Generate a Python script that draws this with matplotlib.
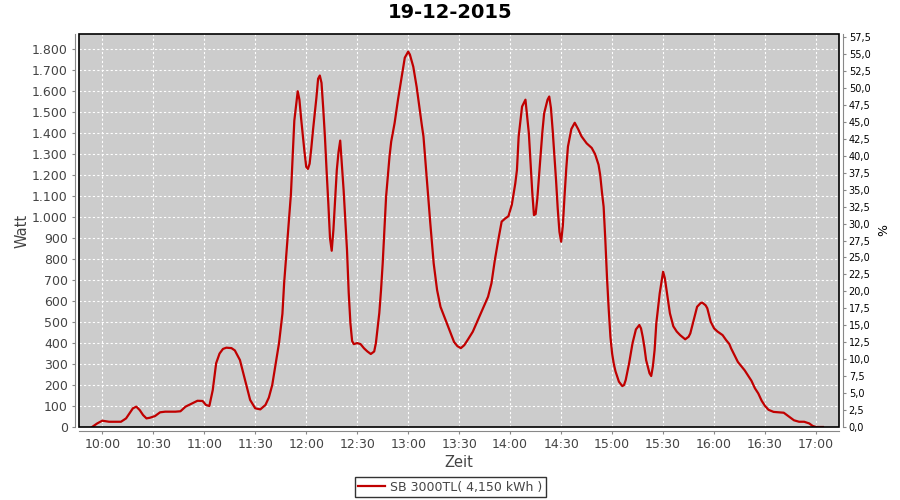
import matplotlib
matplotlib.use('Agg')
import matplotlib.pyplot as plt
from matplotlib.ticker import FuncFormatter, FixedLocator
from matplotlib.patches import Rectangle
import numpy as np

title = '19-12-2015'
series_name = 'SB 3000TL( 4,150 kWh )'

times = [
    '09:54', '09:57', '10:00', '10:04', '10:11', '10:14', '10:16', '10:18', '10:20', '10:22',
    '10:24', '10:26', '10:28', '10:31', '10:34', '10:37', '10:43', '10:46', '10:49', '10:53',
    '10:56', '10:59', '11:01', '11:03', '11:05', '11:07', '11:09', '11:11', '11:13', '11:16',
    '11:18', '11:21', '11:24', '11:27', '11:30', '11:33', '11:36', '11:38', '11:40', '11:42',
    '11:44', '11:46', '11:47', '11:49', '11:51', '11:52', '11:53', '11:55', '11:56', '11:57',
    '11:58', '11:59', '12:00', '12:01', '12:02', '12:03', '12:04', '12:06', '12:07', '12:08',
    '12:09', '12:10', '12:11', '12:12', '12:13', '12:14', '12:15', '12:16', '12:17', '12:18',
    '12:19', '12:20', '12:21', '12:22', '12:23', '12:24', '12:25', '12:26', '12:27', '12:28',
    '12:30', '12:32', '12:34', '12:36', '12:38', '12:40', '12:41', '12:42', '12:43', '12:44',
    '12:45', '12:46', '12:47', '12:49', '12:50', '12:52', '12:54', '12:56', '12:58', '13:00',
    '13:01', '13:03', '13:05', '13:06', '13:08', '13:09', '13:10', '13:11', '13:13', '13:15',
    '13:17', '13:19', '13:22', '13:25', '13:27', '13:29', '13:31', '13:33', '13:35', '13:38',
    '13:41', '13:44', '13:47', '13:49', '13:51', '13:53', '13:55', '13:57', '13:59', '14:01',
    '14:03', '14:04', '14:05', '14:07', '14:09', '14:10', '14:11', '14:12', '14:13', '14:14',
    '14:15', '14:16', '14:17', '14:18', '14:19', '14:20', '14:22', '14:23', '14:24', '14:25',
    '14:26', '14:27', '14:28', '14:29', '14:30', '14:31', '14:32', '14:33', '14:34', '14:36',
    '14:38', '14:40', '14:42', '14:45', '14:48', '14:50', '14:52', '14:53', '14:54', '14:55',
    '14:56', '14:57', '14:58', '14:59', '15:00', '15:01', '15:02', '15:04', '15:06', '15:07',
    '15:08', '15:10', '15:12', '15:14', '15:16', '15:17', '15:18', '15:19', '15:20', '15:22',
    '15:23', '15:24', '15:25', '15:26', '15:28', '15:30', '15:31', '15:32', '15:34', '15:36',
    '15:38', '15:40', '15:43', '15:45', '15:46', '15:48', '15:50', '15:52', '15:53', '15:55',
    '15:56', '15:58', '16:00', '16:02', '16:05', '16:07', '16:09', '16:10', '16:12', '16:14',
    '16:16', '16:18', '16:20', '16:22', '16:24', '16:26', '16:28', '16:30', '16:32', '16:35',
    '16:38', '16:41', '16:44', '16:47', '16:50', '16:53', '16:56', '16:58', '17:00', '17:04',
]

watt = [
    0, 17, 30, 25, 25, 41, 65, 89, 97, 81,
    57, 41, 44, 52, 70, 73, 73, 75, 97, 113,
    125, 124, 105, 100, 176, 304, 350, 372, 378, 376,
    365, 319, 224, 129, 89, 84, 105, 140, 200, 300,
    400, 540, 685, 900, 1110, 1290, 1460, 1600, 1560, 1470,
    1390, 1310, 1240, 1230, 1255, 1330, 1415, 1570, 1660, 1675,
    1640, 1520, 1384, 1220, 1067, 900, 840, 940, 1080, 1225,
    1310, 1365, 1250, 1130, 990, 843, 640, 495, 410, 395,
    400, 395, 375, 360, 348, 360, 400, 470, 543, 650,
    780, 940, 1098, 1288, 1360, 1448, 1560, 1660, 1760, 1789,
    1775, 1717, 1620, 1559, 1440, 1384, 1280, 1177, 972, 780,
    653, 573, 510, 447, 405, 385, 376, 390, 415, 454,
    510, 566, 621, 685, 796, 891, 979, 993, 1005, 1060,
    1160, 1225, 1384, 1527, 1560, 1480, 1400, 1257, 1120, 1010,
    1015, 1090, 1200, 1305, 1410, 1495, 1560, 1575, 1520, 1416,
    1300, 1177, 1040, 930, 883, 960, 1100, 1230, 1336, 1420,
    1450, 1420, 1385, 1352, 1330, 1300, 1250, 1200, 1120, 1050,
    891, 710, 560, 430, 350, 300, 265, 216, 195, 200,
    224, 304, 399, 465, 486, 470, 430, 380, 319, 256,
    243, 290, 367, 494, 637, 740, 710, 653, 542, 480,
    455, 438, 418, 430, 446, 510, 573, 590, 593, 580,
    566, 502, 470, 455, 438, 415, 395, 375, 343, 310,
    290, 270, 245, 220, 185, 160, 125, 100, 82, 72,
    70, 68, 50, 32, 25, 25, 17, 5, 0, 0,
]

x_ticks = ['10:00', '10:30', '11:00', '11:30', '12:00', '12:30', '13:00', '13:30',
           '14:00', '14:30', '15:00', '15:30', '16:00', '16:30', '17:00']
watt_ticks = list(range(0, 1801, 100))
pct_ticks = [i * 2.5 for i in range(24)]


def to_min(s):
    h, m = s.split(':')
    return int(h) * 60 + int(m)


x = np.array([to_min(t) for t in times])
y = np.array(watt)

plt.rcParams['font.family'] = ['DejaVu Sans']
fig = plt.figure(figsize=(9, 5), dpi=100)
ax = fig.add_axes([79 / 900, 1 - 427 / 500, 760 / 900, 393 / 500])
ax.set_facecolor('#cccccc')
ax.plot(x, y, color='#c00000', lw=1.6, label=series_name, zorder=3)

ax.set_xlim(to_min('09:46') + 0.3, to_min('17:13') + 0.5)
ax.set_ylim(0, 1873)
ax.xaxis.set_major_locator(FixedLocator([to_min(t) for t in x_ticks]))
ax.set_xticklabels(x_ticks)
ax.yaxis.set_major_locator(FixedLocator(watt_ticks))
ax.yaxis.set_major_formatter(FuncFormatter(lambda v, p: f'{int(v):,}'.replace(',', '.')))
ax.grid(True, color='white', ls=(0, (2, 2)), lw=0.8)
ax.set_axisbelow(True)

ax2 = ax.twinx()
ax2.set_ylim(0, 57.95)
ax2.yaxis.set_major_locator(FixedLocator(pct_ticks))
ax2.yaxis.set_major_formatter(FuncFormatter(lambda v, p: f'{v:.1f}'.replace('.', ',')))

for a in (ax, ax2):
    for s in a.spines.values():
        s.set_visible(False)
for name, a in (('left', ax), ('bottom', ax), ('right', ax2)):
    a.spines[name].set_visible(True)
    a.spines[name].set_color('#888888')
    a.spines[name].set_position(('outward', 3))

ax.add_patch(Rectangle((0, 0), 1, 1, transform=ax.transAxes, fill=False,
                       edgecolor='black', lw=1.2, clip_on=False, zorder=5))

ax.tick_params(axis='both', direction='out', length=2, width=0.8, color='#888888',
               labelcolor='#444444', labelsize=9, pad=3)
ax2.tick_params(axis='y', direction='out', length=2, width=0.8, color='#888888',
                labelcolor='black', labelsize=7, pad=2)

ax.set_ylabel('Watt', fontsize=10.5, color='#444444', labelpad=2)
ax.set_xlabel('Zeit', fontsize=10.5, color='#444444', labelpad=3)
ax2.set_ylabel('%', fontsize=9, color='black', labelpad=5)

fig.text(0.5, 1 - 13 / 500, title, ha='center', va='center', fontsize=14, fontweight='bold')

leg = fig.legend(loc='center', bbox_to_anchor=(0.5, 1 - 487 / 500), fontsize=9,
                 frameon=True, fancybox=False, edgecolor='black', handlelength=2.2,
                 borderpad=0.25, handletextpad=0.4, labelcolor='#444444')
leg.get_frame().set_linewidth(1.0)

fig.savefig('out.png', dpi=100)
